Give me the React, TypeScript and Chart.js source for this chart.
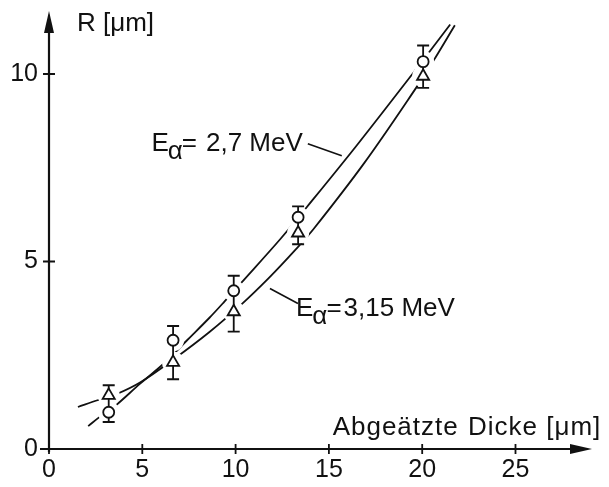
import React, { useEffect, useRef } from "react";
import { Chart, registerables } from "chart.js";

Chart.register(...registerables);

// ---- data ----
const xTickValues = [0, 5, 10, 15, 20, 25];
const yTickValues = [0, 5, 10];
const xAxisMax = 29.1;
const yAxisMax = 11.68;

// measured points (abgeätzte Dicke in µm)
const measX = [3.2, 6.65, 9.9, 13.35, 20.05];
const circleR = [0.98, 2.9, 4.22, 6.18, 10.33]; // E_alpha = 2,7 MeV (circles)
const triangleR = [1.43, 2.31, 3.66, 5.76, 9.94]; // E_alpha = 3,15 MeV (triangles)
const errLow = [0.72, 1.86, 3.13, 5.46, 9.63];
const errHigh = [1.7, 3.28, 4.62, 6.47, 10.76];

// fitted curves
const curve27X = [2.1, 2.7, 3.5, 4.9, 6.2, 7.4, 8.6, 9.4, 10.3, 12.4, 13.8, 16.5, 19.6, 20.4, 21.5];
const curve27Y = [0.61, 0.85, 1.13, 1.75, 2.3, 2.9, 3.5, 3.93, 4.43, 5.6, 6.44, 8.1, 10.08, 10.6, 11.32];
const curve315X = [1.55, 2.6, 3.6, 4.9, 6.7, 8.6, 10.3, 11.8, 13.2, 14.2, 16.9, 19.7, 20.6, 21.75];
const curve315Y = [1.12, 1.3, 1.46, 1.78, 2.4, 3.12, 3.85, 4.57, 5.31, 5.88, 7.63, 9.65, 10.35, 11.3];

const FONT = '"Liberation Sans", Arial, sans-serif';

const pts = (xs: number[], ys: number[]) => xs.map((x, i) => ({ x, y: ys[i] }));

const overlayPlugin = {
  id: "overlay",
  beforeDatasetsDraw(chart: any) {
    chart.$errDrawn = false;
  },
  beforeDatasetDraw(chart: any, args: any) {
    const ds = chart.data.datasets[args.index];
    if (chart.$errDrawn || ds.label.indexOf("marker") !== 0) return;
    chart.$errDrawn = true;
    const ctx = chart.ctx;
    const xs = chart.scales.x;
    const ys = chart.scales.y;
    ctx.save();
    ctx.strokeStyle = "#111";
    ctx.lineWidth = 1.8;
    measX.forEach((xv, i) => {
      const px = xs.getPixelForValue(xv);
      const y1 = ys.getPixelForValue(errLow[i]);
      const y2 = ys.getPixelForValue(errHigh[i]);
      ctx.beginPath();
      ctx.moveTo(px, y1);
      ctx.lineTo(px, y2);
      ctx.moveTo(px - 6, y1);
      ctx.lineTo(px + 6, y1);
      ctx.moveTo(px - 6, y2);
      ctx.lineTo(px + 6, y2);
      ctx.stroke();
    });
    ctx.restore();
  },
  afterDraw(chart: any) {
    const ctx = chart.ctx;
    const xs = chart.scales.x;
    const ys = chart.scales.y;
    const area = chart.chartArea;
    const x0 = xs.getPixelForValue(0);
    const y0 = ys.getPixelForValue(0);
    ctx.save();
    ctx.strokeStyle = "#111";
    ctx.fillStyle = "#111";
    ctx.lineWidth = 2.2;
    // y axis
    ctx.beginPath();
    ctx.moveTo(x0, y0 + 3);
    ctx.lineTo(x0, area.top + 18);
    ctx.stroke();
    ctx.beginPath();
    ctx.moveTo(x0, area.top);
    ctx.lineTo(x0 - 5, area.top + 22);
    ctx.lineTo(x0 + 5, area.top + 22);
    ctx.closePath();
    ctx.fill();
    // x axis
    ctx.beginPath();
    ctx.moveTo(x0 - 9, y0);
    ctx.lineTo(area.right - 18, y0);
    ctx.stroke();
    ctx.beginPath();
    ctx.moveTo(area.right, y0);
    ctx.lineTo(area.right - 22, y0 - 5);
    ctx.lineTo(area.right - 22, y0 + 5);
    ctx.closePath();
    ctx.fill();
    // tick marks
    ctx.lineWidth = 1.8;
    ctx.beginPath();
    xTickValues.forEach((v) => {
      const px = xs.getPixelForValue(v);
      ctx.moveTo(px, y0 - 5);
      ctx.lineTo(px, y0 + 5);
    });
    yTickValues.forEach((v) => {
      const py = ys.getPixelForValue(v);
      ctx.moveTo(x0 - 6, py);
      ctx.lineTo(x0 + 6, py);
    });
    ctx.stroke();

    // texts
    ctx.font = `26px ${FONT}`;
    ctx.textBaseline = "alphabetic";
    ctx.textAlign = "left";
    ctx.fillText("R [μm]", xs.getPixelForValue(1.5), ys.getPixelForValue(11.15));
    try {
      ctx.letterSpacing = "1px";
    } catch (e) {}
    ctx.fillText("Abgeätzte", xs.getPixelForValue(15.2), ys.getPixelForValue(0.37));
    ctx.textAlign = "right";
    ctx.fillText("Dicke [μm]", xs.getPixelForValue(29.6), ys.getPixelForValue(0.37));
    try {
      ctx.letterSpacing = "0px";
    } catch (e) {}
    ctx.textAlign = "left";

    const drawEq = (endPx: number, basePx: number, rest: string, gap: number) => {
      let x = endPx - ctx.measureText(rest).width;
      ctx.fillText(rest, x, basePx);
      x -= gap + ctx.measureText("=").width;
      ctx.fillText("=", x, basePx);
      x -= ctx.measureText("α").width - 1;
      ctx.fillText("α", x, basePx + 8);
      x -= ctx.measureText("E").width - 1;
      ctx.fillText("E", x, basePx);
    };
    drawEq(xs.getPixelForValue(13.6), ys.getPixelForValue(7.95), "2,7 MeV", 9);
    drawEq(xs.getPixelForValue(21.75), ys.getPixelForValue(3.56), "3,15 MeV", 2);

    // leader lines
    ctx.lineWidth = 1.6;
    ctx.beginPath();
    ctx.moveTo(xs.getPixelForValue(13.87), ys.getPixelForValue(8.14));
    ctx.lineTo(xs.getPixelForValue(15.69), ys.getPixelForValue(7.82));
    ctx.moveTo(xs.getPixelForValue(11.84), ys.getPixelForValue(4.28));
    ctx.lineTo(xs.getPixelForValue(13.34), ys.getPixelForValue(3.88));
    ctx.stroke();
    ctx.restore();
  },
};

export default function App() {
  const ref = useRef<HTMLCanvasElement>(null);
  useEffect(() => {
    if (!ref.current) return;
    const lineDs = (label: string, xs: number[], ys: number[]) => ({
      label,
      data: pts(xs, ys),
      showLine: true,
      borderColor: "#111",
      borderWidth: 1.8,
      pointRadius: 0,
      tension: 0.35,
      order: 3,
    });
    const haloDs = (label: string, ys: number[]) => ({
      label,
      data: pts(measX, ys),
      pointRadius: 11,
      pointBackgroundColor: "#fff",
      pointBorderWidth: 0,
      pointBorderColor: "#fff",
      order: 2,
    });
    const chart = new Chart(ref.current, {
      type: "scatter",
      data: {
        datasets: [
          lineDs("curve 2,7 MeV", curve27X, curve27Y),
          lineDs("curve 3,15 MeV", curve315X, curve315Y),
          haloDs("halo circles", circleR),
          haloDs("halo triangles", triangleR),
          {
            label: "marker triangles",
            data: pts(measX, triangleR),
            pointStyle: "triangle",
            pointRadius: 7,
            pointBackgroundColor: "#fff",
            pointBorderColor: "#111",
            pointBorderWidth: 1.8,
            order: 1,
          },
          {
            label: "marker circles",
            data: pts(measX, circleR),
            pointStyle: "circle",
            pointRadius: 5.5,
            pointBackgroundColor: "#fff",
            pointBorderColor: "#111",
            pointBorderWidth: 1.8,
            order: 0,
          },
        ],
      },
      options: {
        responsive: false,
        animation: false,
        events: [],
        layout: { padding: { top: 10, right: 17, left: 0, bottom: 0 } },
        plugins: { legend: { display: false }, tooltip: { enabled: false } },
        scales: {
          x: {
            type: "linear",
            min: 0,
            max: xAxisMax,
            grid: { display: false, drawTicks: false },
            border: { display: false },
            ticks: {
              stepSize: 5,
              includeBounds: false,
              padding: 6,
              color: "#111",
              font: { family: FONT, size: 25 },
            },
            afterFit: (s: any) => {
              s.height = 38;
              s.paddingLeft = 0;
              s.paddingRight = 0;
            },
          },
          y: {
            type: "linear",
            min: 0,
            max: yAxisMax,
            grid: { display: false, drawTicks: false },
            border: { display: false },
            ticks: {
              stepSize: 5,
              includeBounds: false,
              padding: 11,
              color: "#111",
              font: { family: FONT, size: 25 },
            },
            afterFit: (s: any) => {
              s.width = 49;
              s.paddingTop = 0;
              s.paddingBottom = 0;
            },
          },
        },
      },
      plugins: [overlayPlugin],
    } as any);
    return () => chart.destroy();
  }, []);
  return (
    <div style={{ position: "absolute", left: 0, top: 0, width: 609, height: 487, background: "#fff" }}>
      <canvas ref={ref} width={609} height={487} style={{ display: "block" }} />
    </div>
  );
}
